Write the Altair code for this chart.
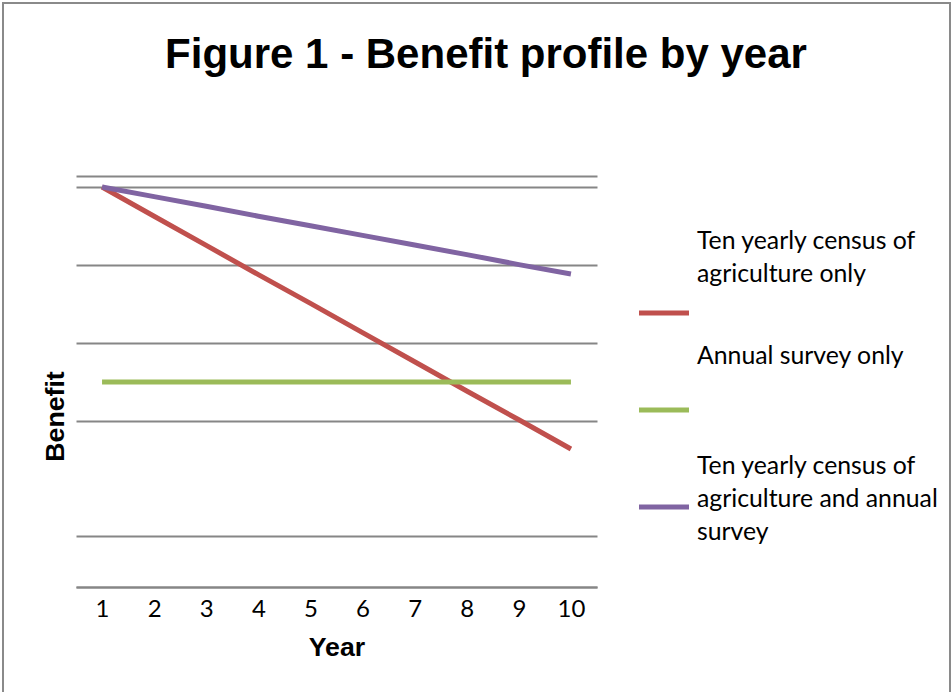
import altair as alt
import pandas as pd

# ---- data ----
years = [1, 2, 3, 4, 5, 6, 7, 8, 9, 10]
series_names = [
    "Ten yearly census of agriculture only",
    "Annual survey only",
    "Ten yearly census of agriculture and annual survey",
]
series_labels = [
    "Ten yearly census of\nagriculture only",
    "Annual survey only",
    "Ten yearly census of\nagriculture and annual\nsurvey",
]
census_only = [100, 92.7, 85.4, 78.1, 70.9, 63.6, 56.3, 49.0, 41.8, 34.5]
survey_only = [51.25, 51.25, 51.25, 51.25, 51.25, 51.25, 51.25, 51.25, 51.25, 51.25]
census_and_survey = [100, 97.6, 95.2, 92.7, 90.3, 87.9, 85.5, 83.1, 80.6, 78.25]
gridline_values = [0, 12.75, 41.5, 61, 80.5, 100, 102.75]
colors = ["#C0504D", "#9BBB59", "#8064A2"]

# legend layout (in data units of the value axis)
legend_symbol_y = [68.5, 44.25, 20]
legend_text_y = [86.25, 57.5, 30]

title_text = "Figure 1 - Benefit profile by year"

rows = []
for name, vals in zip(series_names, [census_only, survey_only, census_and_survey]):
    for yv, v in zip(years, vals):
        rows.append({"Year": yv, "Benefit": v, "Series": name})
df = pd.DataFrame(rows)

legend_df = pd.DataFrame({
    "Series": series_names,
    "label": series_labels,
    "sy": legend_symbol_y,
    "ty": legend_text_y,
})

color_scale = alt.Scale(domain=series_names, range=colors)
GRID = "#868686"
W, H = 521, 411

x_enc = alt.X(
    "Year:Q",
    scale=alt.Scale(domain=[0.5, 10.5], nice=False, zero=False),
    axis=alt.Axis(
        values=years, format="d", title="Year", grid=False, ticks=False,
        domain=True, domainColor=GRID, domainWidth=2,
        labelFont="Lato", labelFontSize=24, labelColor="#000000", labelPadding=10,
        titleFont="Liberation Sans", titleFontSize=26.7, titleFontWeight="bold",
        titleColor="#000000", titleX=260.5, titleY=68, titleBaseline="alphabetic",
        titleAlign="center",
    ),
)
y_enc = alt.Y(
    "Benefit:Q",
    scale=alt.Scale(domain=[0, 102.75], nice=False, zero=False),
    axis=alt.Axis(
        values=gridline_values, labels=False, ticks=False, domain=False,
        grid=True, gridColor=GRID, gridWidth=2, title="Benefit",
        titleFont="Liberation Sans", titleFontSize=26.7, titleFontWeight="bold",
        titleColor="#000000", titleAngle=270, titleX=-13, titleY=240,
        titleBaseline="alphabetic", titleAlign="center",
    ),
)

line_layers = []
for name in series_names:
    line_layers.append(
        alt.Chart(df).transform_filter(alt.datum.Series == name)
        .mark_line(strokeWidth=5, strokeCap="butt")
        .encode(
            x=x_enc, y=y_enc,
            color=alt.Color("Series:N", scale=color_scale, legend=None),
        )
    )

legend_rules = alt.Chart(legend_df).mark_rule(strokeWidth=5, strokeCap="butt").encode(
    x=alt.value(563), x2=alt.value(613),
    y=alt.Y("sy:Q"),
    color=alt.Color("Series:N", scale=color_scale, legend=None),
)
legend_text = alt.Chart(legend_df).mark_text(
    align="left", baseline="middle", lineBreak="\n", lineHeight=33,
    font="Lato", fontSize=24.8, color="#000000",
).encode(
    x=alt.value(621), y=alt.Y("ty:Q"), text="label:N",
)

title_mark = alt.Chart(pd.DataFrame({"t": [title_text]})).mark_text(
    align="center", baseline="alphabetic", font="Liberation Sans",
    fontSize=42, fontWeight="bold", color="#000000",
).encode(x=alt.value(410), y=alt.value(-108), text="t:N")

border = alt.Chart(pd.DataFrame({"b": [1]})).mark_rect(
    fillOpacity=0, stroke="#8a8a8a", strokeWidth=2,
).encode(x=alt.value(-73), x2=alt.value(874), y=alt.value(-173), y2=alt.value(540))

chart = alt.layer(border, *line_layers, legend_rules, legend_text, title_mark).properties(
    width=W, height=H,
    autosize=alt.AutoSizeParams(type="none"),
    padding={"left": 76, "top": 176, "right": 355, "bottom": 105},
    background="#ffffff",
).configure_view(stroke=None)

chart.save("out.html", embed_options={"renderer": "svg", "actions": False})
